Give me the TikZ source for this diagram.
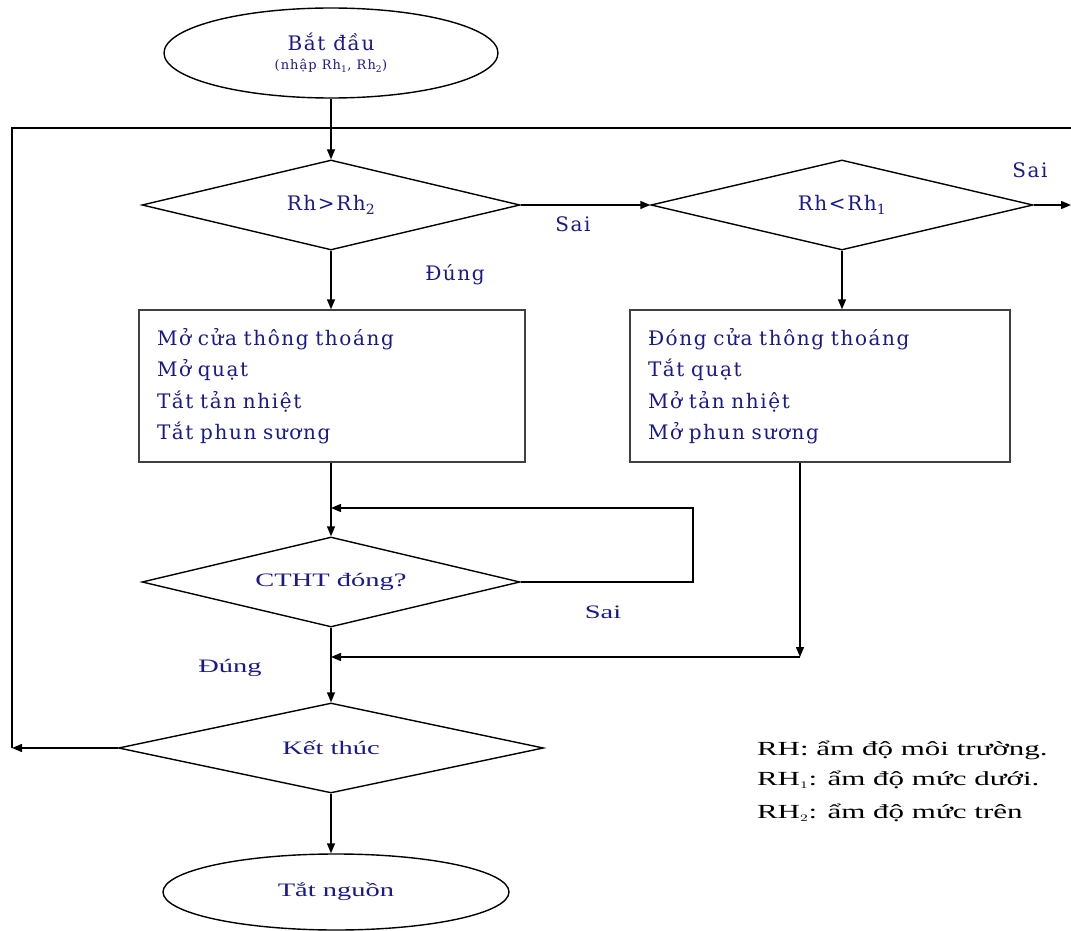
\documentclass[tikz,border=0pt]{standalone}
\usepackage{fontspec}
\setmainfont{Liberation Serif}
\newfontfamily\bluefont[LetterSpace=8]{DejaVu Serif}
\usetikzlibrary{shapes.geometric,arrows.meta}
\definecolor{txtblue}{RGB}{25,25,140}
\begin{document}
\begin{tikzpicture}[x=1pt,y=-1pt,
  every path/.style={line width=1.4pt},
  arr/.style={-{Triangle[length=10pt,width=8pt]}},
  dia/.style={draw, diamond, aspect=4.2, inner sep=0pt, minimum width=#1, minimum height=90pt},
  term/.style={draw, ellipse, inner sep=0pt},
  procbox/.style={draw=black!75, rectangle, inner xsep=18pt, align=left, minimum height=152pt, text=txtblue, font=\bluefont\fontsize{20}{31.5}\selectfont},
  lbl/.style={text=txtblue, font=\bluefont\fontsize{20}{22}\selectfont},
  lblt/.style={text=txtblue, font=\fontsize{19}{22}\selectfont},
  legend/.style={anchor=west, font=\fontsize{20}{24}\selectfont}
]
\useasboundingbox (0,0) rectangle (1071,931);

% nodes
\node[term, minimum width=334pt, minimum height=90pt, align=center] (start) at (331,53)
  {\bluefont\color{txtblue}\fontsize{20}{24}\selectfont Bắt đầu\\[7pt]
   \bluefont\color{txtblue}\fontsize{13}{15}\selectfont (nhập Rh\textsubscript{1}, Rh\textsubscript{2})};
\node[dia=378pt, lbl] (d1) at (331,205) {Rh>Rh\textsubscript{2}};
\node[dia=382pt, lbl] (d2) at (842,205) {Rh<Rh\textsubscript{1}};
\node[procbox, text width=350pt] (b1) at (332,386)
  {Mở cửa thông thoáng\\Mở quạt\\Tắt tản nhiệt\\Tắt phun sương};
\node[procbox, text width=344pt] (b2) at (820,386)
  {Đóng cửa thông thoáng\\Tắt quạt\\Mở tản nhiệt\\Mở phun sương};
\node[dia=378pt, lblt] (d3) at (331,582) {\scalebox{1.5}[1]{CTHT đóng?}};
\node[dia=425pt, lblt] (d4) at (331,748) {\scalebox{1.5}[1]{Kết thúc}};
\node[term, minimum width=346pt, minimum height=76pt, lblt] (stop) at (336,892) {\scalebox{1.5}[1]{Tắt nguồn}};

% labels
\node[lbl] (s1) at (573,224) {Sai};
\node[lbl] (s2) at (1030,170) {Sai};
\node[lbl] (e1) at (455,275) {Đúng};
\node[lblt] (s3) at (603,612) {\scalebox{1.5}[1]{Sai}};
\node[lblt] (e2) at (230,668) {\scalebox{1.5}[1]{Đúng}};

% legend
\node[legend] (l1) at (753,750) {\scalebox{1.55}[1]{RH: ẩm độ môi trường.}};
\node[legend] (l2) at (753,780) {\scalebox{1.55}[1]{RH$_{\scriptscriptstyle 1}$: ẩm độ mức dưới.}};
\node[legend] (l3) at (753,813) {\scalebox{1.55}[1]{RH$_{\scriptscriptstyle 2}$: ẩm độ mức trên}};

% helper coordinates
\coordinate (tl) at (12,128);
\coordinate (tr) at (1071,128);
\coordinate (bl) at (12,748);
\coordinate (rr) at (1071,205);
\coordinate (lp1) at (693,582);
\coordinate (lp2) at (693,508);
\coordinate (j1) at (331,508);
\coordinate (k2) at (800,657);

% connectors
\draw[arr] (start.south) -- (d1.north);
\draw (bl) -- (tl) -- (tr);
\draw[arr] (d1.east) -- (d2.west);
\draw[arr] (d2.east) -- (rr);
\draw[arr] (d1.south) -- (b1.north -| d1.south);
\draw[arr] (d2.south) -- (b2.north -| d2.south);
\draw[arr] (b1.south -| d3.north) -- (d3.north);
\draw[arr] (d3.east) -- (lp1) -- (lp2) -- (j1);
\draw[arr] (b2.south -| k2) -- (k2);
\draw[arr] (k2) -- (k2 -| d3.south);
\draw[arr] (d3.south) -- (d4.north);
\draw[arr] (d4.west) -- (bl);
\draw[arr] (d4.south) -- (d4.south |- stop.north);
\end{tikzpicture}
\end{document}
